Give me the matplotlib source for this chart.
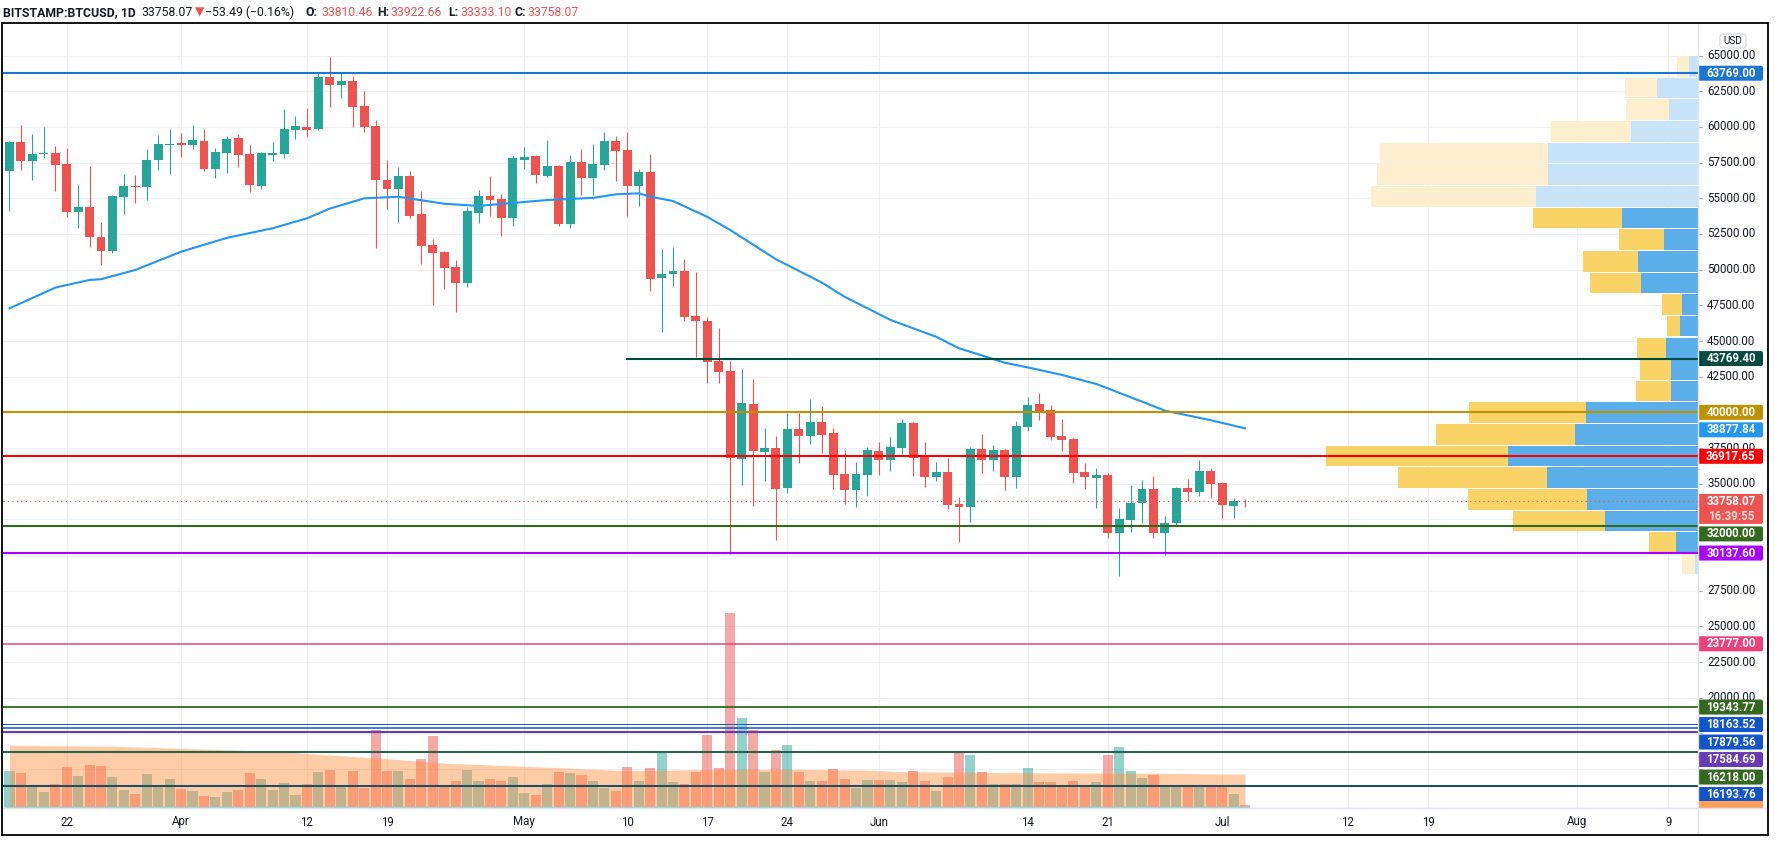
import numpy as np
import pandas as pd
import matplotlib
matplotlib.use('Agg')
import matplotlib.pyplot as plt
import matplotlib.dates as mdates
from matplotlib.patches import Rectangle, FancyBboxPatch

plt.rcParams['font.family'] = ['Roboto', 'DejaVu Sans']

W, H = 1775, 843

# BITSTAMP:BTCUSD daily candles, 17 Mar - 3 Jul 2021
start = '2021-03-17'
opens = [56937, 58928, 57638, 58108, 58178, 57400, 54063, 54393, 52311, 51330,
         55115, 55865, 55795, 57687, 58738, 58878, 58759, 59019, 57057, 58199,
         59229, 58108, 55886, 58059, 58130, 59790, 60000, 59840, 63500, 62950,
         63200, 61472, 60100, 56285, 55654, 56566, 53902, 51729, 51239, 50209,
         49088, 53993, 55165, 54954, 53601, 57708, 57967, 56587, 57266, 53222,
         57547, 56446, 57336, 59019, 58388, 55885, 56846, 49440, 49720, 49907,
         46750, 46423, 43600, 42900, 36750, 40583, 37240, 37500, 34720, 38830,
         38360, 39320, 38550, 35680, 34580, 35630, 37290, 36680, 37520, 39250,
         36960, 35490, 35820, 33600, 33390, 37430, 36680, 37360, 35490, 39000,
         40590, 40170, 38340, 38130, 35820, 35420, 35610, 31560, 32470, 33670,
         34630, 31560, 32270, 34700, 34440, 35890, 35050, 33460, 33810.46]
highs = [59019, 60140, 59509, 60000, 58668, 58507, 55935, 57266, 53341, 55250,
         56706, 56636, 58458, 59439, 59860, 59579, 60140, 59860, 58528, 59369,
         59509, 58738, 58248, 58949, 61262, 60771, 61332, 63800, 64900, 63800,
         63550, 62500, 60490, 57687, 57217, 56916, 55535, 52150, 51300, 50679,
         54413, 55585, 56566, 55305, 58037, 58598, 58037, 59089, 57336, 58037,
         58458, 58808, 59649, 59369, 59649, 57057, 58108, 51450, 51590, 50748,
         49837, 46700, 45900, 43600, 43040, 42330, 38900, 38340, 39980, 39980,
         40940, 40450, 38900, 37380, 36540, 37590, 37940, 38270, 39530, 39300,
         37920, 36540, 36820, 34070, 37590, 38480, 37710, 37430, 39390, 41080,
         41360, 40520, 39530, 38200, 36450, 36100, 35750, 33320, 34940, 35260,
         35540, 32730, 34770, 35330, 36660, 36100, 35100, 34000, 33922.66]
lows = [54133, 56986, 56285, 57848, 55535, 53713, 52942, 51610, 50349, 51200,
        53923, 54694, 54904, 56986, 56706, 57897, 58458, 56937, 56446, 56797,
        57217, 55465, 55675, 57638, 57848, 59180, 59390, 59790, 61380, 62000,
        60021, 59670, 51540, 54253, 53363, 53643, 50419, 47545, 48667, 47012,
        48807, 53293, 53762, 52381, 53083, 57057, 56096, 56517, 53083, 52942,
        55255, 55255, 56986, 56215, 53732, 54484, 48527, 45654, 48877, 46423,
        43900, 42078, 42030, 30050, 34930, 33460, 35210, 31075, 34370, 36470,
        37800, 37170, 34650, 33600, 33390, 34160, 35630, 35910, 37100, 35560,
        34790, 35210, 33250, 30930, 32330, 35770, 35910, 34580, 34720, 38720,
        39460, 38060, 37290, 35070, 34650, 33320, 31210, 28550, 31630, 32260,
        31210, 30020, 32030, 33810, 34160, 34020, 32610, 32610, 33333.10]
closes = [58928, 57638, 58108, 58178, 57358, 54063, 54393, 52311, 51330, 55165,
          55865, 55795, 57687, 58808, 58808, 58759, 59089, 57057, 58248, 59159,
          58059, 55956, 58178, 58178, 59860, 60070, 59790, 63500, 62950, 63200,
          61423, 60021, 56285, 55654, 56566, 53762, 51680, 51190, 50139, 49088,
          54112, 55165, 54904, 53601, 57827, 57897, 56657, 57266, 53222, 57547,
          56446, 57407, 59019, 58318, 55885, 56846, 49346, 49720, 49907, 46704,
          46423, 43550, 42850, 36778, 40653, 37310, 37500, 34650, 38830, 38360,
          39320, 38430, 35630, 34580, 35680, 37360, 36680, 37570, 39250, 36820,
          35490, 35820, 33530, 33390, 37430, 36680, 37360, 35490, 39040, 40520,
          40100, 38270, 38060, 35750, 35490, 35610, 31560, 32520, 33650, 34630,
          31560, 32220, 34700, 34440, 35890, 35000, 33530, 33811.56, 33758.07]
# volume, thousand BTC
volume = [7.1, 6.7, 4.1, 2.9, 4.5, 8.0, 6.1, 8.3, 8.1, 5.9, 3.3, 2.5, 6.5, 4.1, 5.5,
          3.5, 3.1, 2.1, 1.9, 2.9, 3.3, 6.7, 5.5, 3.3, 4.7, 2.3, 4.5, 6.9, 7.3, 4.1,
          7.1, 3.7, 15.4, 7.1, 7.1, 5.5, 9.5, 14.1, 3.9, 5.1, 7.3, 5.1, 5.5, 5.1, 5.9,
          2.7, 2.3, 4.5, 6.9, 6.7, 6.3, 5.1, 3.7, 3.1, 7.9, 5.1, 7.7, 10.7, 4.9, 4.5,
          6.9, 14.3, 7.7, 38.8, 17.7, 15.4, 6.9, 11.3, 12.3, 6.9, 5.1, 5.1, 7.5, 5.5, 3.7,
          5.3, 5.3, 5.3, 4.9, 7.1, 5.1, 3.1, 5.9, 10.7, 10.3, 6.9, 4.5, 4.5, 4.5, 7.7,
          4.9, 4.9, 3.9, 5.1, 3.9, 4.9, 10.3, 11.9, 7.1, 5.7, 6.3, 4.1, 4.1, 4.1, 4.1,
          4.1, 4.1, 2.5, 0.4]
vol_ma_day = [0, 9, 16, 23, 27, 33, 38, 46, 54, 60, 68, 75, 78, 89, 100, 108]
vol_ma = [12.3, 12.1, 11.6, 11.1, 10.5, 9.6, 8.7, 8.0, 7.2, 7.4, 7.5, 7.3, 7.0, 6.8, 6.7, 6.5]

# 50 day moving average (sampled off the blue line)
ma_day = [0, 4, 7, 8, 11, 15, 19, 23, 26, 28, 31, 34, 38, 41, 47, 51, 53, 55, 56, 58,
          61, 63, 67, 71, 73, 77, 81, 83, 87, 90, 92, 95, 99, 101, 105, 108]
ma_vals = [47290, 48740, 49280, 49330, 49980, 51260, 52230, 52900, 53600, 54280,
           55000, 55110, 54620, 54470, 54880, 55030, 55280, 55350, 55120, 54810,
           53700, 52780, 50730, 49100, 48100, 46480, 45300, 44490, 43480, 42980,
           42620, 41990, 40750, 40120, 39450, 38877.84]

# volume profile, rows from top (65000) down to 28600
vp_low, vp_high = 28600, 65000
vp_up = [9, 41, 29, 67, 150, 150, 162, 76, 34, 60, 57, 16, 18, 32, 27, 27,
         112, 123, 190, 151, 111, 93, 22, 3]
vp_down = [12, 32, 43, 80, 168, 171, 165, 89, 45, 55, 51, 20, 13, 29, 31, 35,
           117, 139, 182, 149, 119, 92, 27, 13]
va_low, va_high = 30100, 54400

# horizontal levels drawn on the chart (drawn in this order)
levels = [63769.00, 43769.40, 40000.00, 36917.65, 32000.00, 30137.60, 23777.00,
          19343.77, 18163.52, 17879.56, 17584.69, 16193.76, 16218.00]
level_colors = ['#1976D2', '#004D40', '#BF9000', '#FF0000', '#33691E', '#AA00FF', '#EC407A',
                '#33691E', '#1155CC', '#1155CC', '#673AB7', '#1155CC', '#33691E']
level_lw = [1.5, 1.5, 1.5, 1.5, 1.5, 1.5, 1.1, 1.3, 0.7, 1.1, 1.5, 1.5, 1.1]
level_start = {43769.40: '2021-05-10'}
extra_level = 13830   # unlabelled line near the bottom
countdown = '16:39:55'

date_ticks = ['2021-03-22', '2021-04-01', '2021-04-12', '2021-04-19', '2021-05-01',
              '2021-05-10', '2021-05-17', '2021-05-24', '2021-06-01', '2021-06-14',
              '2021-06-21', '2021-07-01', '2021-07-12', '2021-07-19', '2021-08-01',
              '2021-08-09']
date_labels = ['22', 'Apr', '12', '19', 'May', '10', '17', '24', 'Jun', '14', '21',
               'Jul', '12', '19', 'Aug', '9']

# ---------------------------------------------------------------
UP, DN = '#26A69A', '#EF5350'
TXT = '#131722'

dates = pd.date_range(start, periods=len(opens), freq='D')
x = mdates.date2num(dates)
o, c = np.array(opens), np.array(closes)
col = np.where(c >= o, UP, DN)

fig = plt.figure(figsize=(W / 100, H / 100), dpi=100)
fig.patch.set_facecolor('white')
pos = [3 / W, 35 / H, 1695 / W, 785 / H]
ax = fig.add_axes(pos)
xl0, xl1 = x[0] - 0.568, x[0] + 147.6
ax.set_xlim(xl0, xl1)
ax.set_ylim(12268, 67289)

# grid
for p in range(15000, 67500, 2500):
    ax.axhline(p, color='#EEF0F4', lw=0.8, zorder=0)
for d in date_ticks:
    ax.axvline(mdates.date2num(pd.Timestamp(d)), color='#EEF0F4', lw=0.8, zorder=0)

# candles
ax.vlines(x, lows, highs, colors=col, lw=0.8, zorder=3)
body_h = np.maximum(np.abs(c - o), 60)
ax.bar(x, body_h, bottom=np.minimum(o, c), width=0.78, color=col, lw=0, zorder=4)

# 50 MA
ax.plot(x[0] + np.array(ma_day), ma_vals, color='#2196F3', lw=1.5, zorder=5)

# volume
ax_vol = ax.twinx()
ax_vol.bar(x, volume, width=0.88, color=col, alpha=0.5, lw=0, zorder=2)
ax_vol.fill_between(x[0] + np.array(vol_ma_day), vol_ma, color='#FF8E3E', alpha=0.45,
                    lw=0, zorder=3)
ax_vol.hlines(0, x[0] - 0.45, x[-1] + 0.45, color='#8FD3CC', lw=1, zorder=4)
ax_vol.set_ylim(-0.26, 156.7)

# volume profile + levels
ax_vp = ax.twiny()
n = len(vp_up)
step = (vp_high - vp_low) / n
centers = vp_high - step * (np.arange(n) + 0.5)
in_va = (centers >= va_low) & (centers <= va_high)
ax_vp.barh(centers, vp_up, height=step * 0.95,
           color=np.where(in_va, '#5AAEE9', '#C7E3F7'), lw=0, zorder=1)
ax_vp.barh(centers, vp_down, left=vp_up, height=step * 0.95,
           color=np.where(in_va, '#FAD366', '#FDEFCD'), lw=0, zorder=1)
ax_vp.set_xlim(1695, 0)

for p, cl, lw in zip(levels, level_colors, level_lw):
    xmin = 0
    if p in level_start:
        xmin = (mdates.date2num(pd.Timestamp(level_start[p])) - xl0) / (xl1 - xl0)
    ax_vp.axhline(p, xmin=xmin, color=cl, lw=lw, zorder=5)
ax_vp.axhline(extra_level, color='#1E5060', lw=1.5, zorder=5)
ax_vp.axhline(closes[-1], color=DN, lw=0.8, ls=(0, (1, 3)), zorder=5)

for a in (ax, ax_vol, ax_vp):
    a.set_xticks([])
    a.set_yticks([])
    for s in a.spines.values():
        s.set_visible(False)

# ---------------------------------------------------------------
# overlay in pixel coordinates for the axis texts and price labels
ov = fig.add_axes([0, 0, 1, 1])
ov.set_xlim(0, W)
ov.set_ylim(H, 0)
ov.axis('off')


def ypix(p):
    return H - ax.transData.transform((x[0], p))[1]


def xpix(d):
    return ax.transData.transform((mdates.date2num(pd.Timestamp(d)), 20000))[0]


FS = 8.3

# coloured price labels, stacked so they do not overlap
tags = [(p, [f'{p:.2f}'], cl) for p, cl in zip(levels, level_colors)]
tags.append((ma_vals[-1], [f'{ma_vals[-1]:.2f}'], '#2196F3'))
tags.append((closes[-1], [f'{closes[-1]:.2f}', countdown], DN))
tags.sort(key=lambda t: -t[0])
boxes = []
prev_bottom = -1e9
for p, texts, cl in tags:
    yc = ypix(p)
    hgt = 15 * len(texts)
    top = yc - 7.5
    if top < prev_bottom + 2.5:
        top = prev_bottom + 2.5
    prev_bottom = top + hgt
    boxes.append((top, top + hgt))
    ov.add_patch(FancyBboxPatch((1698, top), 65, hgt,
                                boxstyle='round,pad=0,rounding_size=2',
                                fc=cl, ec='none', zorder=10))
    for k, t in enumerate(texts):
        ov.text(1731, top + 7.5 + 15 * k, t, fontsize=FS, color='white' if k == 0 else '#FFD9D9',
                fontweight='bold', ha='center', va='center', zorder=11)
# volume tag, cut off by the time scale
ov.add_patch(Rectangle((1698, 801), 65, 7, fc='#FF9F5A', ec='none', zorder=10))

# price scale: a tick label is dropped when the coloured tags leave too little of it
for p in range(15000, 67500, 2500):
    y = ypix(p)
    if not 30 < y < 805:
        continue
    ov.plot([1698, 1702], [y, y], color='#B2B5BE', lw=0.8)
    t0, t1 = y - 4.5, y + 4.5
    hidden = sum(max(0, min(t1, b1) - max(t0, b0)) for b0, b1 in boxes)
    if t1 - t0 - hidden >= 4:
        ov.text(1707, y, f'{p:.2f}', fontsize=FS, color=TXT, va='center', ha='left')

# date scale
for d, lab in zip(date_ticks, date_labels):
    ov.text(xpix(d), 822, lab, fontsize=FS, color=TXT, ha='center', va='center')

# axis frames
ov.add_patch(Rectangle((1698, 808), 70, 28, fc='white', ec='none', zorder=12))
ov.plot([1698, 1698], [23, 835], color='#E0E3EB', lw=1, zorder=13)
ov.plot([2, 1768], [808, 808], color='#E0E3EB', lw=1, zorder=13)
ov.add_patch(Rectangle((2, 23), 1766, 812, fill=False, ec='black', lw=1.3, zorder=14))

# USD badge
ov.add_patch(FancyBboxPatch((1720, 34), 26, 14, boxstyle='round,pad=0,rounding_size=3',
                            fc='white', ec='#D1D4DC', lw=0.8, zorder=11))
ov.text(1733, 41, 'USD', fontsize=7.2, color=TXT, ha='center', va='center', zorder=12)

# header line
chg = closes[-1] - closes[-2]
pct = chg / closes[-2] * 100
yh = 12.5
hdr = [(3, 'BITSTAMP:BTCUSD, 1D', TXT, 'bold'),
       (141.6, f'{closes[-1]:.2f}', TXT, 'normal'),
       (195, '\u25BC', DN, 'normal'),
       (205, f'\u2212{abs(chg):.2f} (\u2212{abs(pct):.2f}%)', TXT, 'normal'),
       (306, 'O:', TXT, 'bold'), (321.5, f'{opens[-1]:.2f}', DN, 'normal'),
       (377, 'H:', TXT, 'bold'), (390, f'{highs[-1]:.2f}', DN, 'normal'),
       (447.8, 'L:', TXT, 'bold'), (460, f'{lows[-1]:.2f}', DN, 'normal'),
       (514.7, 'C:', TXT, 'bold'), (527.4, f'{closes[-1]:.2f}', DN, 'normal')]
for xx, t, cl, fw in hdr:
    ov.text(xx, yh, t, fontsize=8.8, color=cl, fontweight=fw, ha='left', va='center')

fig.savefig('out.png', dpi=100, facecolor='white')
